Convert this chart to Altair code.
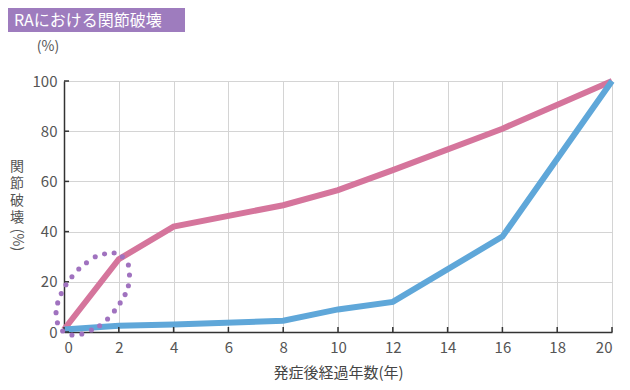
import altair as alt
import pandas as pd

years = [0, 2, 4, 8, 10, 12, 16, 20]
pink_vals = [1, 29, 42, 50.5, 56.5, 64.5, 81, 100]
blue_vals = [1, 2.5, 3, 4.5, 9, 12, 38, 100]

ell_x = [-0.05, 0.29, 0.65, 1.0, 1.30, 1.59, 1.84, 2.05, 2.23, 2.35, 2.39, 2.35,
         2.13, 1.83, 1.48, 1.14, 0.82, 0.54, 0.29, 0.07, -0.10, -0.23, -0.29, -0.24]
ell_y = [0.4, -1.2, -0.8, 0.8, 2.5, 5.2, 8.4, 11.6, 14.9, 18.4, 22.7, 26.7,
         30.0, 31.5, 31.1, 30.0, 27.6, 25.1, 22.0, 18.8, 15.3, 11.6, 7.7, 3.7]

x_ticks = [0, 2, 4, 6, 8, 10, 12, 14, 16, 18, 20]
y_ticks = [0, 20, 40, 60, 80, 100]

title_text = "RAにおける関節破壊"
y_title_chars = ["関", "節", "破", "壊"]
y_title_paren = "(%)"
y_unit = "(%)"
x_title = "発症後経過年数(年)"

FONT = "Noto Sans CJK JP"
PINK = "#d5759c"
BLUE = "#5fa7d9"
PURPLE = "#a072bf"
BANNER = "#9e7cbe"

W, H = 548, 251

df = pd.DataFrame({
    "year": years * 2,
    "value": pink_vals + blue_vals,
    "series": ["pink"] * len(years) + ["blue"] * len(years),
})
ell = pd.DataFrame({"x": ell_x, "y": ell_y})

xs = alt.Scale(domain=[0, 20], nice=False)
ys = alt.Scale(domain=[0, 100], nice=False)

lines = alt.Chart(df).mark_line(strokeWidth=6, clip=False).encode(
    x=alt.X("year:Q", scale=xs,
            axis=alt.Axis(values=x_ticks, grid=True, gridColor="#d4d4d4", gridWidth=1,
                          ticks=False, domainColor="#333333", domainWidth=1.5,
                          labelFont=FONT, labelFontSize=15, labelColor="#555555",
                          labelPadding=8, labelFontWeight="normal",
                          title=x_title, titleFont=FONT, titleFontSize=15,
                          titleFontWeight="normal", titleColor="#444444", titlePadding=10)),
    y=alt.Y("value:Q", scale=ys,
            axis=alt.Axis(values=y_ticks, grid=True, gridColor="#d4d4d4", gridWidth=1,
                          ticks=False, domainColor="#333333", domainWidth=1.5,
                          labelFont=FONT, labelFontSize=15, labelColor="#555555",
                          labelPadding=7, title=None)),
    color=alt.Color("series:N", scale=alt.Scale(domain=["pink", "blue"], range=[PINK, BLUE]),
                    legend=None),
    detail="series:N",
)

ytick_df = pd.DataFrame({"v": y_ticks})
ytk = alt.Chart(ytick_df).mark_rule(color="#333333", strokeWidth=1.5).encode(
    y=alt.Y("v:Q", scale=ys), x=alt.value(0), x2=alt.value(5))
xtick_df = pd.DataFrame({"v": x_ticks})
xtk = alt.Chart(xtick_df).mark_rule(color="#333333", strokeWidth=1.5).encode(
    x=alt.X("v:Q", scale=xs), y=alt.value(H), y2=alt.value(H - 5))

dots = alt.Chart(ell).mark_circle(size=26, color=PURPLE, opacity=1, clip=False).encode(
    x=alt.X("x:Q", scale=xs), y=alt.Y("y:Q", scale=ys))

one = pd.DataFrame({"a": [0]})
banner = alt.Chart(one).mark_rect(color=BANNER).encode(
    x=alt.value(-56), x2=alt.value(121), y=alt.value(-73), y2=alt.value(-49))
banner_txt = alt.Chart(one).mark_text(text=title_text, font=FONT, fontSize=16, color="white",
                                      align="left", baseline="middle").encode(
    x=alt.value(-50), y=alt.value(-60))
unit_txt = alt.Chart(one).mark_text(text=y_unit, font=FONT, fontSize=14, color="#555555",
                                    align="center", baseline="middle").encode(
    x=alt.value(-16), y=alt.value(-34))

ychar_layers = []
for i, ch in enumerate(y_title_chars):
    ychar_layers.append(
        alt.Chart(one).mark_text(text=ch, font=FONT, fontSize=14, color="#555555",
                                 align="center", baseline="middle").encode(
            x=alt.value(-47), y=alt.value(86 + i * 17)))
yparen = alt.Chart(one).mark_text(text=y_title_paren, font=FONT, fontSize=14, color="#555555",
                                  angle=90, align="center", baseline="middle").encode(
    x=alt.value(-47), y=alt.value(159))

chart = alt.layer(lines, ytk, xtk, dots, banner, banner_txt, unit_txt, *ychar_layers, yparen).properties(
    width=W, height=H,
    autosize=alt.AutoSizeParams(type="none"),
    padding={"left": 56, "top": 73, "right": 10, "bottom": 50},
).configure_view(stroke=None)

chart.save("out.html", embed_options={"renderer": "svg", "actions": False})
